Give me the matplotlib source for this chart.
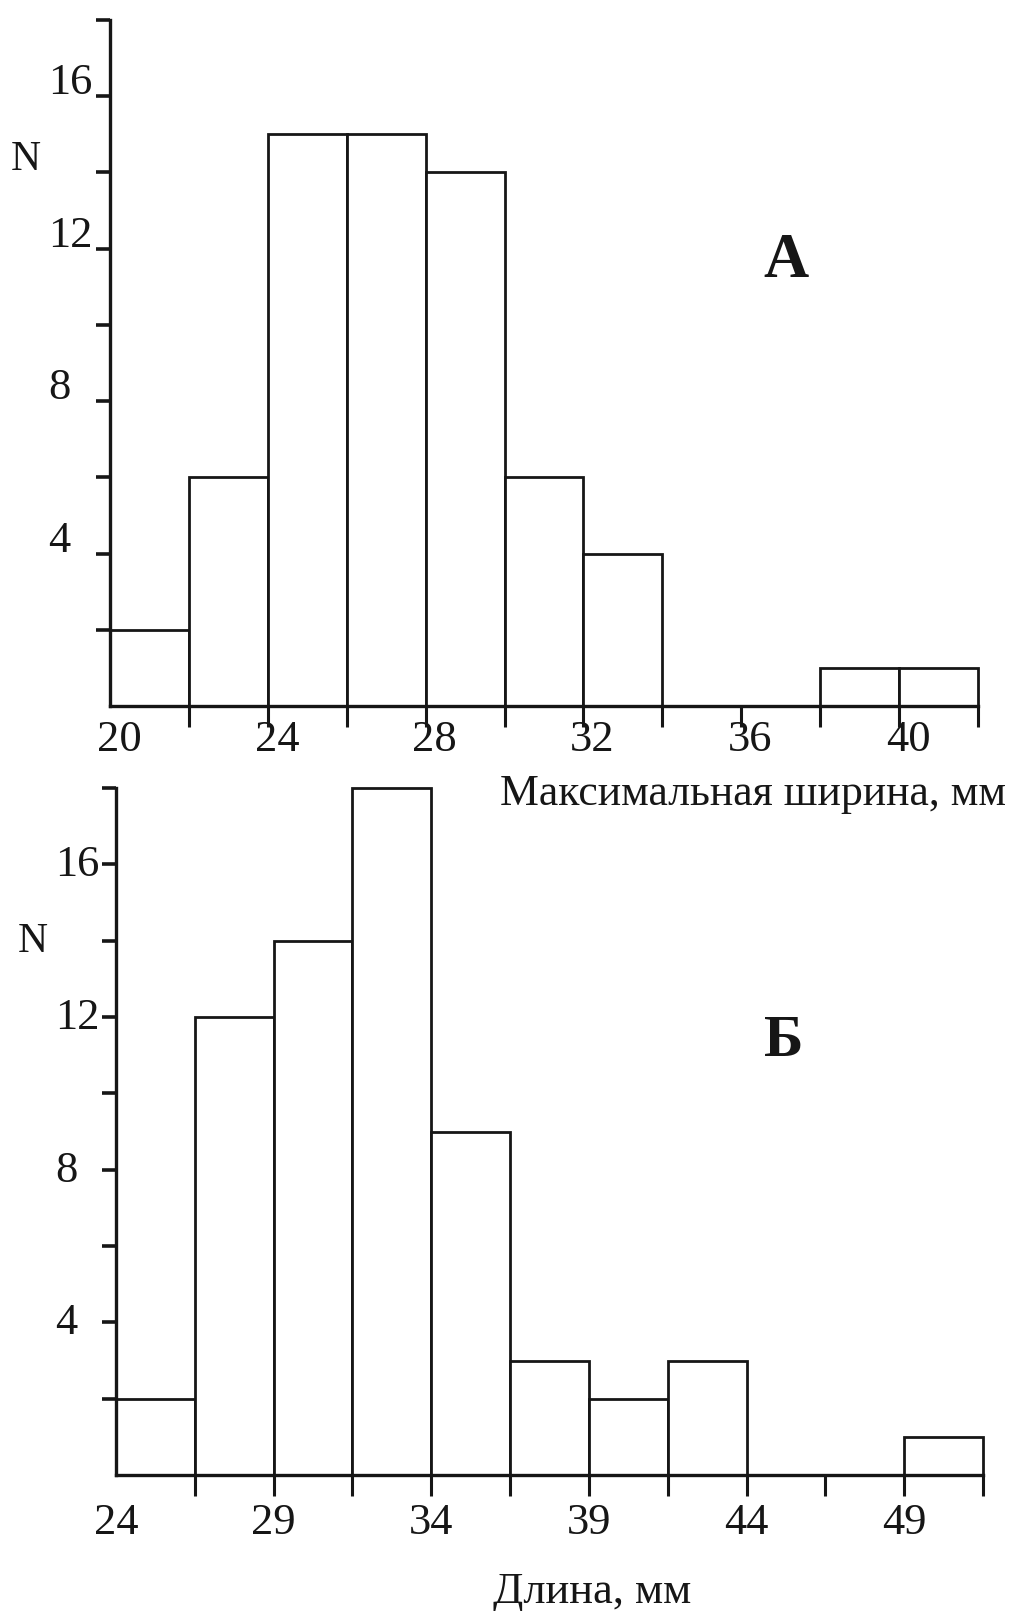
import matplotlib
matplotlib.use("Agg")
import matplotlib.pyplot as plt
from matplotlib.transforms import blended_transform_factory, ScaledTranslation

plt.rcParams['font.family'] = ['Liberation Serif', 'DejaVu Serif']

# А: максимальная ширина, мм
width_edges = [20, 22, 24, 26, 28, 30, 32, 34, 36, 38, 40, 42]
width_counts = [2, 6, 15, 15, 14, 6, 4, 0, 0, 1, 1]
width_ticks = [20, 24, 28, 32, 36, 40]

# Б: длина, мм
length_edges = [24, 26.5, 29, 31.5, 34, 36.5, 39, 41.5, 44, 46.5, 49, 51.5]
length_counts = [2, 12, 14, 18, 9, 3, 2, 3, 0, 0, 1]
length_ticks = [24, 29, 34, 39, 44, 49]

n_major = [4, 8, 12, 16]
n_minor = [2, 6, 10, 14, 18]

W, H = 1026, 1611
INK = '#161616'

fig = plt.figure(figsize=(W / 100, H / 100), dpi=100)


def px(x, y):
    return x / W, 1 - y / H


def shift(dx, dy):
    return ScaledTranslation(dx / 100, dy / 100, fig.dpi_scale_trans)


def histogram(rect, edges, counts, ticks, lab_dx, lab_dy, ylab_x, ylab_dy):
    ax = fig.add_axes(rect)
    lefts = [e for e, c in zip(edges[:-1], counts) if c > 0]
    widths = [edges[i + 1] - edges[i] for i, c in enumerate(counts) if c > 0]
    heights = [c for c in counts if c > 0]
    ax.bar(lefts, heights, width=widths, align='edge', facecolor='white',
           edgecolor=INK, linewidth=2.0, clip_on=False, zorder=3)

    ax.set_xlim(edges[0], edges[-1])
    ax.set_ylim(0, 18)
    for side in ['top', 'right']:
        ax.spines[side].set_visible(False)
    for side in ['left', 'bottom']:
        ax.spines[side].set_linewidth(2.4)
        ax.spines[side].set_color(INK)
        ax.spines[side].set_zorder(4)

    ax.set_xticks(edges[1:])
    ax.set_yticks(n_major + n_minor)
    ax.tick_params(axis='x', direction='out', length=15, width=2.2,
                   color=INK, labelbottom=False)
    ax.tick_params(axis='y', direction='out', length=10, width=2.6,
                   color=INK, labelleft=False)

    xt = blended_transform_factory(ax.transData, ax.transAxes) + shift(lab_dx, lab_dy)
    for v in ticks:
        ax.text(v, 0, str(v), transform=xt, ha='center', va='top',
                fontsize=32, color=INK, clip_on=False)

    yt = blended_transform_factory(fig.transFigure, ax.transData) + shift(0, ylab_dy)
    for v in n_major:
        ax.text(ylab_x / W, v, str(v), transform=yt, ha='left', va='baseline',
                fontsize=32, color=INK, clip_on=False)
    return ax


ax1 = histogram([110 / W, 1 - 706 / H, 868 / W, 686 / H],
                width_edges, width_counts, width_ticks, 9, -14, 48, 2)
ax2 = histogram([116 / W, 1 - 1475 / H, 867 / W, 687 / H],
                length_edges, length_counts, length_ticks, 0, -28, 55, -12)

fig.text(*px(26, 170), 'N', ha='center', va='baseline', fontsize=30, color=INK)
fig.text(*px(33, 952), 'N', ha='center', va='baseline', fontsize=30, color=INK)

fig.text(*px(786, 277), 'А', ha='center', va='baseline', fontsize=45,
         fontweight='bold', color=INK)
fig.text(*px(784, 1056), 'Б', ha='center', va='baseline', fontsize=43,
         fontweight='bold', color=INK)

fig.text(*px(500, 805), 'Максимальная ширина, мм', ha='left', va='baseline',
         fontsize=31.5, color=INK)
fig.text(*px(493, 1603), 'Длина, мм', ha='left', va='baseline',
         fontsize=32, color=INK)

fig.savefig('out.png', dpi=100, facecolor='white')
